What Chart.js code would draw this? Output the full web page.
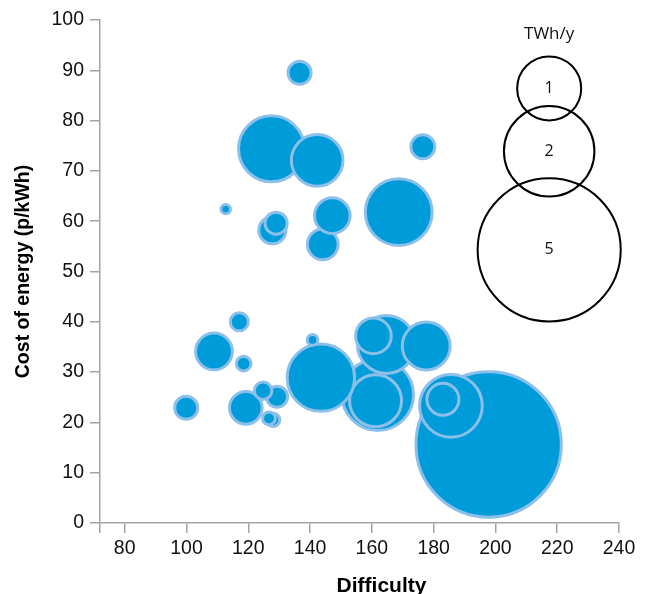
<!DOCTYPE html>
<html><head><meta charset="utf-8">
<script src="https://cdn.jsdelivr.net/npm/chart.js@4/dist/chart.umd.min.js"></script>
<style>html,body{margin:0;padding:0;background:#fff}#wrap{width:652px;height:594px}</style>
</head><body><div id="wrap"><canvas id="c" width="652" height="594"></canvas></div>
<script>
// Data (drawing order: later entries are drawn on top)
const difficulty = [136.6,127.5,142.3,176.5,112.7,127.8,129.0,144.1,147.2,168.7,117.1,108.9,118.5,99.9,129.3,119.2,124.8,128.0,126.7,161.9,164.7,160.5,177.6,161.2,143.5,140.8,197.8,185.6,183.0];
const costOfEnergy = [89.5,74.4,72.1,74.8,62.4,58.2,59.6,55.4,61.1,61.8,40.0,34.1,31.7,22.9,25.1,22.9,26.3,20.5,20.8,25.5,35.5,37.2,35.2,24.3,28.9,36.4,15.6,23.3,24.6];
const outputTWh = [0.13,1.06,0.65,0.14,0.022,0.18,0.12,0.23,0.31,1.09,0.08,0.33,0.053,0.13,0.11,0.26,0.074,0.044,0.04,1.25,0.82,0.31,0.56,0.66,1.11,0.028,5.16,0.96,0.25];
const xTicks = [80,100,120,140,160,180,200,220,240];
const yTicks = [0,10,20,30,40,50,60,70,80,90,100];
const legendValues = [1,2,5];
const legendLabels = ['1','2','5'];
const legendX = [217.4,217.4,217.4];
const legendY = [86.4,73.9,54.3];
const legendTitle = 'TWh/y';
const xTitle = 'Difficulty';
const yTitle = 'Cost of energy (p/kWh)';

const RADIUS_PER_SQRT = 32;
const rad = v => RADIUS_PER_SQRT * Math.sqrt(v);

const bubbles = difficulty.map((x,i)=>({x, y: costOfEnergy[i], r: rad(outputTWh[i])}));
const legendPts = legendValues.map((v,i)=>({x: legendX[i], y: legendY[i], r: rad(v)}));

const axisColor = '#a3a3a3';
const tickFont = {family:'Liberation Sans', size:19.5};
const titleFont = {family:'Liberation Sans', size:19.5, weight:'bold'};

const labelsPlugin = {
  id:'sizeLegend',
  afterDatasetsDraw(chart){
    const meta = chart.getDatasetMeta(1);
    const ctx = chart.ctx;
    ctx.save();
    ctx.fillStyle = '#111';
    ctx.textAlign = 'center';
    ctx.textBaseline = 'middle';
    ctx.font = '16px "Open Sans"';
    meta.data.forEach((el,i)=>{
      ctx.fillText(legendLabels[i], el.x, el.y);
    });
    const first = meta.data[0];
    ctx.font = '17px "Open Sans"';
    ctx.fillText(legendTitle, first.x, first.y - rad(legendValues[0]) - 22);
    // x-axis title
    const ca = chart.chartArea;
    ctx.fillStyle = '#000';
    ctx.font = 'bold 21px "Liberation Sans"';
    ctx.textBaseline = 'alphabetic';
    ctx.fillText(xTitle, (ca.left + ca.right) / 2 + 22, ca.bottom + 69);
    ctx.restore();
  }
};

new Chart(document.getElementById('c'), {
  type:'bubble',
  data:{
    datasets:[
      {data: bubbles, backgroundColor:'#009bd9', borderColor:'#8cc0ea', borderWidth:3, hoverBorderWidth:3},
      {data: legendPts, backgroundColor:'rgba(0,0,0,0)', borderColor:'#000', borderWidth:2, clip:false}
    ]
  },
  options:{
    responsive:false,
    animation:false,
    events:[],
    layout:{autoPadding:false, padding:{left:0,right:33,top:20,bottom:0}},
    plugins:{legend:{display:false}, tooltip:{enabled:false}},
    scales:{
      x:{
        type:'linear', min:72, max:240,
        afterBuildTicks(s){ s.ticks = [72].concat(xTicks).map(v=>({value:v})); },
        afterFit(s){ s.height = 71; },
        ticks:{font:tickFont, color:'#111', padding:4, maxRotation:0, autoSkip:false,
          callback:(v)=> xTicks.includes(v) ? String(v) : ''},
        grid:{drawOnChartArea:false, drawTicks:true, tickLength:10, color:axisColor, lineWidth:1.5},
        border:{display:true, color:axisColor, width:1.5},
        title:{display:false}
      },
      y:{
        type:'linear', min:0, max:100,
        afterBuildTicks(s){ s.ticks = yTicks.map(v=>({value:v})); },
        afterFit(s){ s.width = 100; },
        ticks:{font:tickFont, color:'#111', padding:6, autoSkip:false},
        grid:{drawOnChartArea:false, drawTicks:true, tickLength:10, color:axisColor, lineWidth:1.5},
        border:{display:true, color:axisColor, width:1.5},
        title:{display:true, text:yTitle, font:titleFont, color:'#000', padding:{top:12,bottom:0}}
      }
    }
  },
  plugins:[labelsPlugin]
});
</script></body></html>
